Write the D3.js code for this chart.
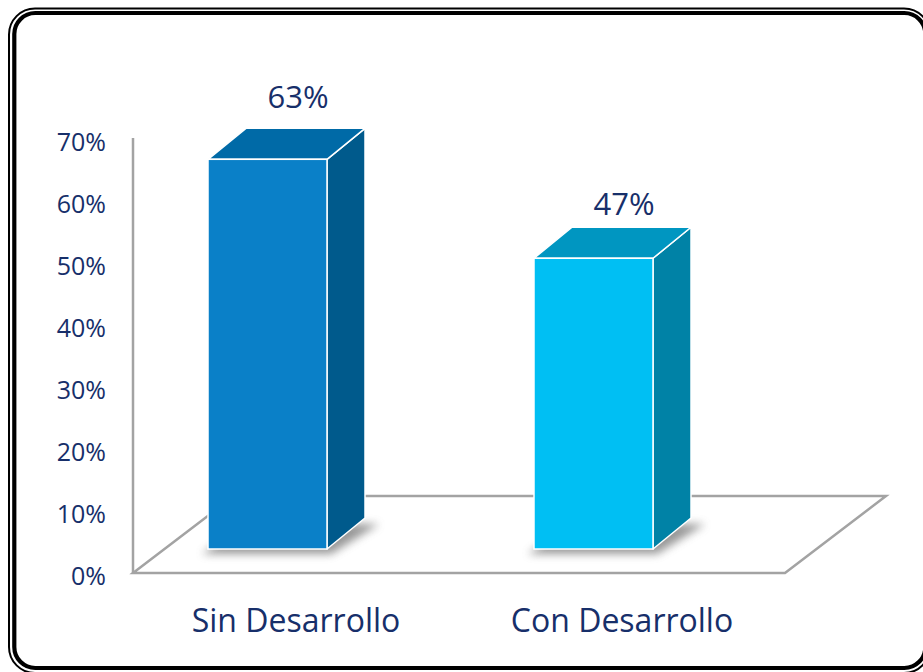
<!DOCTYPE html>
<html>
<head>
<meta charset="utf-8">
<script src="https://cdn.jsdelivr.net/npm/d3@7"></script>
<style>
  html, body { margin: 0; padding: 0; background: #ffffff; }
  svg { display: block; }
</style>
</head>
<body>
<svg id="chart" width="923" height="672"></svg>
<script>
// ---- data ----
const categories = ["Sin Desarrollo", "Con Desarrollo"];
const values = [0.63, 0.47];
const valueLabels = ["63%", "47%"];
const tickValues = [0, 0.1, 0.2, 0.3, 0.4, 0.5, 0.6, 0.7];
const frontColors = ["#0A80C8", "#00BFF3"];
const topColors = ["#006AA7", "#0096C1"];
const sideColors = ["#005A8C", "#0082A6"];

const textColor = "#172F6A";
const gridGray = "#A3A3A3";
const font = "'Open Sans', 'Liberation Sans', sans-serif";

const svg = d3.select("#chart");

// ---- frame ----
svg.append("rect").attr("x", 9).attr("y", 8.5).attr("width", 921).attr("height", 664.5)
  .attr("rx", 26).attr("ry", 26).attr("fill", "#fff").attr("stroke", "#000").attr("stroke-width", 2);
svg.append("rect").attr("x", 14.3).attr("y", 13).attr("width", 911).attr("height", 655)
  .attr("rx", 21).attr("ry", 21).attr("fill", "none").attr("stroke", "#000").attr("stroke-width", 4.2);

// ---- scales ----
const floorY = 573;
const axisX = 133;
const xBand = d3.scaleBand().domain(categories).range([axisX, 785]);
const yFront = d3.scaleLinear().domain([0, 0.7]).range([floorY, 139]);   // axis (front) plane
const yBar = d3.scaleLinear().domain([0, 0.7]).range([549, 116]);        // bar front plane
const yLabel = d3.scaleLinear().domain([0, 0.7]).range([529, 61]);       // value label anchor
const floorDepth = { dx: 101, dy: -77 };
const barDepth = { dx: 38, dy: -31 };
const barWidth = 119;
const barShift = -88; // bar front-left relative to band centre (3D skew)

// ---- defs ----
const defs = svg.append("defs");
const f = defs.append("filter").attr("id", "shadow").attr("x", "-50%").attr("y", "-50%").attr("width", "200%").attr("height", "200%");
f.append("feGaussianBlur").attr("stdDeviation", 4);

// ---- floor ----
const x0 = xBand.range()[0], x1 = xBand.range()[1];
const floorPts = [
  [x0, floorY], [x1, floorY],
  [x1 + floorDepth.dx, floorY + floorDepth.dy],
  [x0 + floorDepth.dx, floorY + floorDepth.dy]
];
svg.append("polygon")
  .attr("points", floorPts.map(p => p.join(",")).join(" "))
  .attr("fill", "none").attr("stroke", gridGray).attr("stroke-width", 2.5)
  .attr("stroke-linejoin", "miter");

// vertical axis line
svg.append("line")
  .attr("x1", axisX).attr("x2", axisX)
  .attr("y1", floorY).attr("y2", yFront(0.7) - 1)
  .attr("stroke", gridGray).attr("stroke-width", 2.5);

// tick labels
svg.append("g").selectAll("text").data(tickValues).join("text")
  .attr("x", 106)
  .attr("y", d => yFront(d) + 12)
  .attr("text-anchor", "end")
  .attr("font-family", font).attr("font-size", 25)
  .attr("fill", textColor)
  .text(d3.format(".0%"));

// ---- bars ----
const bars = svg.append("g").selectAll("g").data(categories).join("g");

bars.each(function(c, i) {
  const g = d3.select(this);
  const xl = xBand(c) + xBand.bandwidth() / 2 + barShift;
  const xr = xl + barWidth;
  const yb = yBar(0);
  const yt = yBar(values[i]);
  const dx = barDepth.dx, dy = barDepth.dy;

  // shadow of footprint
  g.append("polygon")
    .attr("points", [[xl - 6, yb + 5], [xr + 4, yb + 5], [xr + dx + 14, yb + dy + 6], [xl + dx, yb + dy + 6]].map(p => p.join(",")).join(" "))
    .attr("fill", "#6d6d6d").attr("opacity", 0.7).attr("filter", "url(#shadow)");

  // side face
  g.append("polygon")
    .attr("points", [[xr, yb], [xr + dx, yb + dy], [xr + dx, yt + dy], [xr, yt]].map(p => p.join(",")).join(" "))
    .attr("fill", sideColors[i]).attr("stroke", "#fff").attr("stroke-width", 1.5).attr("stroke-linejoin", "round");
  // top face
  g.append("polygon")
    .attr("points", [[xl, yt], [xr, yt], [xr + dx, yt + dy], [xl + dx, yt + dy]].map(p => p.join(",")).join(" "))
    .attr("fill", topColors[i]).attr("stroke", "#fff").attr("stroke-width", 1.5).attr("stroke-linejoin", "round");
  // front face
  g.append("rect")
    .attr("x", xl).attr("y", yt).attr("width", barWidth).attr("height", yb - yt)
    .attr("fill", frontColors[i]).attr("stroke", "#fff").attr("stroke-width", 1.5);

  // value label
  g.append("text")
    .attr("x", xBand(c) + xBand.bandwidth() / 2 + 2)
    .attr("y", yLabel(values[i]))
    .attr("text-anchor", "middle")
    .attr("font-family", font).attr("font-size", 31)
    .attr("fill", textColor)
    .text(valueLabels[i]);
});

// ---- category labels ----
svg.append("g").selectAll("text").data(categories).join("text")
  .attr("x", d => xBand(d) + xBand.bandwidth() / 2)
  .attr("y", 632)
  .attr("text-anchor", "middle")
  .attr("font-family", font).attr("font-size", 32)
  .attr("fill", textColor)
  .text(d => d);
</script>
</body>
</html>
